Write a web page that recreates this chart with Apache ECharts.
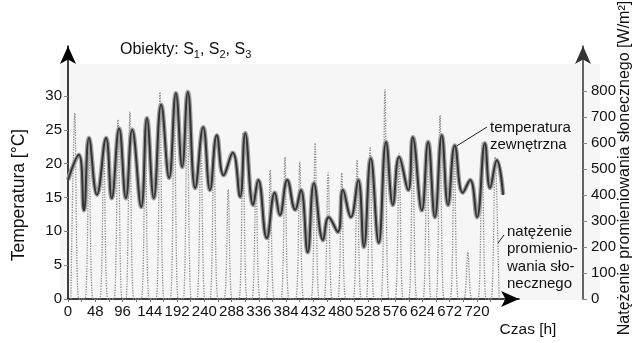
<!DOCTYPE html>
<html>
<head>
<meta charset="utf-8">
<script src="https://cdn.jsdelivr.net/npm/echarts@6/dist/echarts.min.js"></script>
<style>
html, body { margin: 0; padding: 0; background: #fff; }
#chart { width: 638px; height: 343px; }
</style>
</head>
<body>
<div id="chart"></div>
<script>
// temperatura zewnetrzna - odczyty ekstremow dobowych [h, °C]
var tempHours = [0, 19, 28, 37, 51, 67, 77, 90, 102, 113, 129, 139, 151, 164, 178, 190, 201, 211, 224, 238,
    250, 262, 274, 290, 303, 312, 326, 335, 350, 364, 373, 386, 400, 410, 422, 433, 449, 459, 475, 484,
    498, 511, 521, 533, 547, 560, 572, 583, 599, 607, 623, 634, 646, 658, 669, 681, 695, 708, 720, 734,
    743, 755, 766];
var tempValues = [17.6, 21.3, 13.1, 23.8, 15.4, 23.8, 14.9, 25.2, 14.9, 25.0, 13.6, 26.7, 14.9, 28.7, 17.9, 30.4, 19.5, 30.6, 16.4, 25.4,
    16.1, 24.2, 18.3, 21.6, 15.1, 24.5, 13.9, 17.6, 9.0, 15.7, 12.4, 17.6, 13.2, 16.1, 6.9, 17.1, 8.7, 12.1, 9.9, 16.1,
    12.1, 17.6, 7.7, 20.8, 8.3, 23.2, 13.9, 21.0, 16.1, 23.9, 13.1, 23.2, 12.1, 24.2, 13.9, 22.7, 15.7, 17.6, 12.1, 23.0,
    16.4, 20.5, 15.4];

// natezenie promieniowania - godzina i wartosc szczytu dobowego [h, W/m2]
var solarHours = [12, 37, 63, 88, 109, 136, 162, 187, 210, 234, 257, 282, 308, 331, 356, 382,
    408, 435, 458, 482, 509, 532, 558, 583, 607, 632, 655, 680, 704, 729, 752];
var solarPeaks = [715, 600, 600, 690, 720, 680, 796, 770, 790, 620, 600, 420, 640, 450, 496, 546,
    527, 600, 485, 485, 535, 585, 804, 560, 630, 600, 707, 580, 180, 600, 546];

var xTicks = [0, 48, 96, 144, 192, 240, 288, 336, 384, 432, 480, 528, 576, 624, 672, 720];
var dayTicks = [0, 24, 48, 72, 96, 120, 144, 168, 192, 216, 240, 264, 288, 312, 336, 360, 384, 408,
    432, 456, 480, 504, 528, 552, 576, 600, 624, 648, 672, 696, 720, 744, 768];
var tempTicks = [0, 5, 10, 15, 20, 25, 30];
var solarTicks = [0, 100, 200, 300, 400, 500, 600, 700, 800];

var tempData = tempHours.map(function (h, i) { return [h, tempValues[i]]; });
var solarData = [];
solarHours.forEach(function (h, i) {
    solarData.push([h - 7, 0]);
    solarData.push([h, solarPeaks[i]]);
    solarData.push([h + 7, 0]);
});

var font = 'Liberation Sans, Arial, sans-serif';
var chart = echarts.init(document.getElementById('chart'));

var option = {
    animation: false,
    textStyle: { fontFamily: font },
    grid: { left: 68, right: 119, top: 46, bottom: 44 },
    xAxis: {
        type: 'value',
        min: 0,
        max: 794,
        splitLine: { show: false },
        axisLine: { lineStyle: { color: '#000', width: 1.5 }, symbol: ['none', 'arrow'], symbolSize: [12, 18] },
        axisTick: { customValues: dayTicks, length: 3, lineStyle: { color: '#777' } },
        axisLabel: { customValues: xTicks, fontSize: 15, color: '#111', margin: 5, fontFamily: font }
    },
    yAxis: [{
        type: 'value',
        min: 0,
        max: 37.39,
        splitLine: { show: false },
        axisLine: { show: true, lineStyle: { color: '#000', width: 1.5 }, symbol: ['none', 'arrow'], symbolSize: [12, 18] },
        axisTick: { show: true, customValues: tempTicks, length: 4, lineStyle: { color: '#888' } },
        axisLabel: { customValues: tempTicks, fontSize: 15, color: '#111', margin: 6, fontFamily: font }
    }, {
        type: 'value',
        position: 'right',
        offset: 64,
        min: 0,
        max: 973,
        splitLine: { show: false },
        axisLine: { show: true, lineStyle: { color: '#333', width: 1.5 }, symbol: ['none', 'arrow'], symbolSize: [12, 18] },
        axisTick: { show: true, customValues: solarTicks, length: 4, lineStyle: { color: '#888' } },
        axisLabel: { customValues: solarTicks, fontSize: 15, color: '#111', margin: 8, fontFamily: font }
    }],
    series: [{
        name: 'natężenie promieniowania słonecznego',
        type: 'line',
        yAxisIndex: 1,
        data: solarData,
        symbol: 'none',
        smooth: 0.3,
        lineStyle: { color: '#8c8c8c', width: 1.3, type: 'dotted' },
        z: 1
    }, {
        name: 'temperatura zewnętrzna',
        type: 'line',
        data: tempData,
        symbol: 'none',
        smooth: 0.45,
        lineStyle: { color: '#a0a0a0', width: 4.5 },
        z: 2
    }, {
        name: 'temperatura zewnętrzna',
        type: 'line',
        data: tempData,
        symbol: 'none',
        smooth: 0.45,
        lineStyle: { color: '#333', width: 2 },
        z: 3
    }],
    graphic: [
        {
            type: 'rect', z: -10, silent: true,
            shape: { x: 60, y: 64, width: 540, height: 236 },
            style: { fill: '#f6f6f6' }
        },
        {
            type: 'text', left: 120, top: 42,
            style: {
                text: '{n|Obiekty: S}{s|1}{n|, S}{s|2}{n|, S}{s|3}',
                rich: {
                    n: { fontSize: 16, fontFamily: font, fill: '#111', lineHeight: 20, verticalAlign: 'middle' },
                    s: { fontSize: 11, fontFamily: font, fill: '#111', lineHeight: 20, verticalAlign: 'bottom', padding: [7, 0, 0, 0] }
                }
            }
        },
        {
            type: 'text', x: 19, y: 195, rotation: Math.PI / 2,
            style: { text: 'Temperatura [°C]', fontSize: 17.5, fontFamily: font, fill: '#111', align: 'center', verticalAlign: 'middle' }
        },
        {
            type: 'text', x: 625, y: 168, rotation: Math.PI / 2,
            style: { text: 'Natężenie promieniowania słonecznego [W/m²]', fontSize: 16, fontFamily: font, fill: '#111', align: 'center', verticalAlign: 'middle' }
        },
        {
            type: 'text', x: 528, y: 330,
            style: { text: 'Czas [h]', fontSize: 15.5, fontFamily: font, fill: '#111', align: 'center', verticalAlign: 'middle' }
        },
        {
            type: 'text', x: 490, y: 119,
            style: { text: 'temperatura\nzewnętrzna', fontSize: 15, lineHeight: 17, fontFamily: font, fill: '#111' }
        },
        {
            type: 'line', shape: { x1: 455, y1: 147, x2: 487, y2: 127 },
            style: { stroke: '#222', lineWidth: 1 }
        },
        {
            type: 'text', x: 507, y: 223,
            style: { text: 'natężenie\npromienio-\nwania sło-\nnecznego', fontSize: 15, lineHeight: 17.5, fontFamily: font, fill: '#111' }
        },
        {
            type: 'line', shape: { x1: 498, y1: 243, x2: 504, y2: 235 },
            style: { stroke: '#222', lineWidth: 1 }
        }
    ]
};

chart.setOption(option);
</script>
</body>
</html>
